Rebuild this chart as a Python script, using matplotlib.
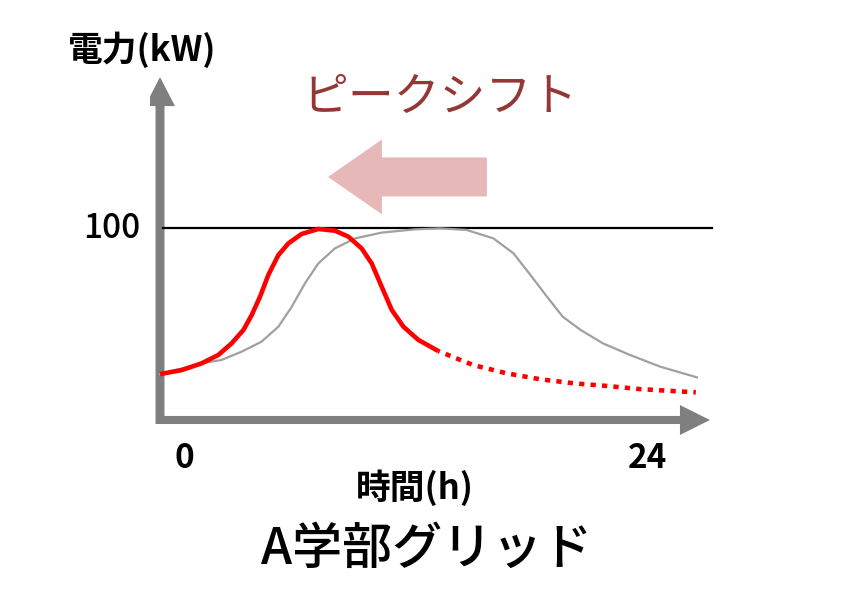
import matplotlib
matplotlib.use('Agg')
import matplotlib.pyplot as plt
import matplotlib.patches as mpatches

plt.rcParams['font.family'] = ['Noto Sans CJK JP', 'DejaVu Sans']

# Data: hours vs power (kW)
hours_before = [0, 1.86, 2.76, 3.65, 4.54, 5.29, 5.89, 6.48, 7.08, 7.82, 8.72, 9.91,
                11.4, 12.5, 13.7, 14.9, 15.8, 16.5, 17.3, 18.0, 18.8, 19.8, 21.0,
                22.35, 24]
power_before = [23.9, 29.5, 31.3, 35.6, 40.8, 48.6, 59.0, 71.2, 81.6, 89.4, 94.6, 97.6,
                99.3, 99.8, 99.0, 94.6, 86.8, 76.4, 64.2, 53.8, 46.9, 39.9, 33.9,
                27.8, 22.2]

hours_after = [0, 0.97, 1.86, 2.61, 3.2, 3.73, 4.1, 4.47, 4.84, 5.29, 5.74, 6.33,
               7.08, 7.82, 8.42, 9.01, 9.46, 9.91, 10.36, 10.88, 11.55, 12.44]
power_after = [23.9, 26.0, 29.5, 33.9, 39.9, 46.9, 54.7, 64.2, 75.5, 85.9, 92.0, 96.9,
               99.5, 98.6, 95.5, 89.4, 81.6, 69.4, 57.3, 48.6, 41.7, 35.9]

hours_tail = [12.44, 14.0, 15.5, 17.0, 18.5, 20.0, 21.45, 23.95]
power_tail = [35.9, 28.6, 24.3, 21.2, 19.1, 17.7, 16.1, 14.4]

peak_limit = 100

fig = plt.figure(figsize=(8.5, 6), dpi=100)
ax = fig.add_axes([150 / 850, 160 / 600, 570 / 850, 370 / 600])
ax.set_xlim(-0.447, 25.03)
ax.set_ylim(-10.42, 182.3)
ax.axis('off')

# axis arrows (gray)
axis_col = '#7F7F7F'
ax.add_patch(mpatches.FancyArrow(0, -2, 0, 180.6, width=0.40, head_width=1.34,
                                 head_length=15.1, length_includes_head=True,
                                 color=axis_col, lw=0))
ax.add_patch(mpatches.FancyArrow(-0.18, 0, 24.76, 0, width=4.2, head_width=15.6,
                                 head_length=1.34, length_includes_head=True,
                                 color=axis_col, lw=0))

# 100 kW line
ax.plot([0.134, 24.67], [peak_limit, peak_limit], color='black', lw=1.6)

# curves
ax.plot(hours_before, power_before, color='#A0A0A0', lw=1.6, solid_joinstyle='round')
ax.plot(hours_after, power_after, color='#FF0000', lw=3.3, solid_joinstyle='round',
        solid_capstyle='butt')
ax.plot(hours_tail, power_tail, color='#FF0000', lw=3.3, linestyle=(0.8, (1.15, 1.35)),
        dash_capstyle='butt')

# shift arrow
ax.add_patch(mpatches.FancyArrow(14.61, 126.6, -7.1, 0, width=20.3, head_width=39,
                                 head_length=2.41, length_includes_head=True,
                                 color='#E6B9B8', lw=0))

# texts
def px(x, y):
    return x / 850, 1 - y / 600

fig.text(*px(142, 50), '電力(kW)', fontsize=25, fontweight='bold', ha='center', va='center')
fig.text(*px(112, 229), '100', fontsize=24, fontweight='medium', ha='center', va='center')
fig.text(*px(184, 459), '0', fontsize=24, fontweight='bold', ha='center', va='center')
fig.text(*px(648, 459), '24', fontsize=24, fontweight='bold', ha='center', va='center')
fig.text(*px(415, 488), '時間(h)', fontsize=25, fontweight='bold', ha='center', va='center')
fig.text(*px(440, 98), 'ピークシフト', fontsize=33, color='#953735', ha='center', va='center')
fig.text(*px(427, 550), 'A学部グリッド', fontsize=36, fontweight='medium', ha='center', va='center')

fig.savefig('out.png', dpi=100)
